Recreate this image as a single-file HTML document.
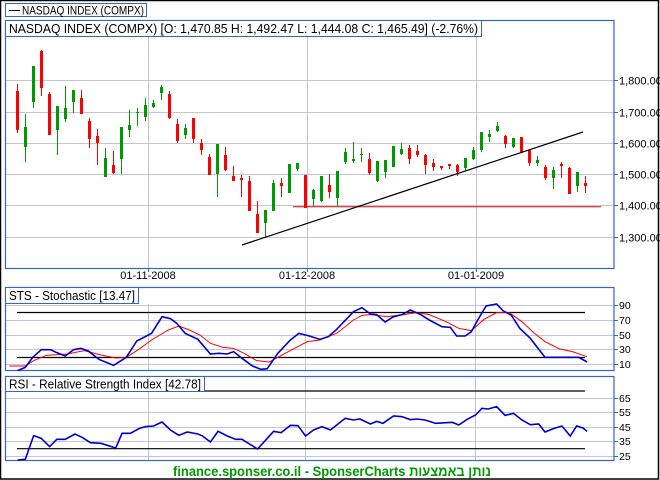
<!DOCTYPE html>
<html><head><meta charset="utf-8"><style>
html,body{margin:0;padding:0;background:#fff}
svg{display:block}
text{font-family:"Liberation Sans",sans-serif;fill:#000}
</style></head><body>
<svg width="660" height="480" viewBox="0 0 660 480" xmlns="http://www.w3.org/2000/svg">
<rect x="0" y="0" width="660" height="480" fill="#fff"/>
<rect x="0.5" y="0.5" width="658" height="478.5" fill="none" stroke="#000" stroke-width="1.5"/>

<!-- legend -->
<rect x="5.5" y="3.5" width="141" height="13" fill="#fff" stroke="#3366cc"/>
<line x1="9" y1="10.5" x2="20" y2="10.5" stroke="#000"/>
<text x="22" y="14.5" font-size="11.5" textLength="122" lengthAdjust="spacingAndGlyphs">NASDAQ INDEX (COMPX)</text>

<!-- main panel -->
<g stroke="#c4c4d8" stroke-width="1">
<path d="M6 80.5H614M6 112.5H614M6 143.5H614M6 174.5H614M6 205.5H614M6 237.5H614"/>
<path d="M148.5 37V268M307.5 37V268M476.5 37V268"/>
</g>
<rect x="5.5" y="20.5" width="608.5" height="248" fill="none" stroke="#3366cc" stroke-width="1.2"/>
<rect x="5.5" y="20.5" width="476" height="16" fill="#fff" stroke="#3366cc"/>
<text x="9" y="33" font-size="12.5" textLength="469" lengthAdjust="spacingAndGlyphs">NASDAQ INDEX (COMPX) [O: 1,470.85  H: 1,492.47  L: 1,444.08  C: 1,465.49] (-2.76%)</text>
<g stroke="#3366cc"><path d="M614 80.5H618M614 112.5H618M614 143.5H618M614 174.5H618M614 205.5H618M614 237.5H618M148.5 268V272M307.5 268V272M476.5 268V272"/></g>
<g font-size="11">
<text x="619" y="84.5">1,800.00</text>
<text x="619" y="116.5">1,700.00</text>
<text x="619" y="147.5">1,600.00</text>
<text x="619" y="178.5">1,500.00</text>
<text x="619" y="209.5">1,400.00</text>
<text x="619" y="241.5">1,300.00</text>
<text x="148" y="279" text-anchor="middle">01-11-2008</text>
<text x="307" y="279" text-anchor="middle">01-12-2008</text>
<text x="476" y="279" text-anchor="middle">01-01-2009</text>
</g>

<g stroke="#ff0000" fill="#ff0000" stroke-width="1">
<path d="M17.5 84V133M41.5 50V96M49.5 92V135M81.5 90V114M89.5 118V148M97.5 129V165M113.5 151V174M169.5 91V119M177.5 119V143M193.5 118V143M201.5 139V155M209.5 154V175M225.5 147V171M233.5 166V181M241.5 175V197M249.5 176V211M257.5 201V233M281.5 178V197M305.5 175V208M329.5 174V198M369.5 153V175M409.5 145V164M417.5 145V157M425.5 154V174M433.5 159V171M441.5 166V170M449.5 164V169M457.5 164V176M505.5 135V148M521.5 137V153M529.5 150V166M545.5 165V180M561.5 162V178M569.5 167V194M585.5 176V193"/>
</g>
<g fill="#ff0000">
<rect x="16" y="91" width="3" height="39"/><rect x="40" y="51" width="3" height="37"/><rect x="48" y="94" width="3" height="41"/><rect x="80" y="98" width="3" height="16"/><rect x="88" y="121" width="3" height="18"/><rect x="96" y="136" width="3" height="7"/><rect x="112" y="165" width="3" height="8"/><rect x="168" y="94" width="3" height="24"/><rect x="176" y="124" width="3" height="17"/><rect x="192" y="118" width="3" height="21"/><rect x="200" y="143" width="3" height="7"/><rect x="208" y="157" width="3" height="18"/><rect x="224" y="155" width="3" height="15"/><rect x="232" y="176" width="3" height="5"/><rect x="240" y="178" width="3" height="2"/><rect x="248" y="181" width="3" height="30"/><rect x="256" y="214" width="3" height="19"/><rect x="280" y="183" width="3" height="3"/><rect x="304" y="175" width="3" height="33"/><rect x="328" y="185" width="3" height="7"/><rect x="368" y="159" width="3" height="14"/><rect x="408" y="148" width="3" height="11"/><rect x="416" y="151" width="3" height="4"/><rect x="424" y="155" width="3" height="10"/><rect x="432" y="163" width="3" height="4"/><rect x="440" y="166" width="3" height="2"/><rect x="448" y="164" width="3" height="2"/><rect x="456" y="165" width="3" height="7"/><rect x="504" y="136" width="3" height="8"/><rect x="520" y="137" width="3" height="16"/><rect x="528" y="150" width="3" height="13"/><rect x="544" y="167" width="3" height="11"/><rect x="560" y="164" width="3" height="2"/><rect x="568" y="168" width="3" height="26"/><rect x="584" y="183" width="3" height="3"/>
</g>
<g stroke="#009900" stroke-width="1">
<path d="M25.5 114V162M33.5 66V108M57.5 106V155M65.5 86V122M73.5 90V113M105.5 148V177M121.5 127V174M129.5 110V137M137.5 108V126M145.5 98V121M153.5 100V108M161.5 85V100M185.5 124V139M217.5 144V197M265.5 210V238M273.5 180V211M289.5 164V193M297.5 163V171M313.5 189V206M321.5 176V202M337.5 171V206M345.5 148V164M353.5 142V163M361.5 148V162M377.5 161V182M385.5 160V178M393.5 146V167M401.5 143V155M465.5 158V170M473.5 147V160M481.5 132V152M489.5 130V142M497.5 122V132M513.5 138V148M537.5 156V166M553.5 167V189M577.5 172V192"/>
</g>
<g fill="#009900">
<rect x="24" y="127" width="3" height="20"/><rect x="32" y="66" width="3" height="36"/><rect x="56" y="106" width="3" height="24"/><rect x="64" y="108" width="3" height="11"/><rect x="72" y="90" width="3" height="12"/><rect x="104" y="158" width="3" height="19"/><rect x="120" y="127" width="3" height="32"/><rect x="128" y="125" width="3" height="5"/><rect x="136" y="112" width="3" height="1"/><rect x="144" y="105" width="3" height="12"/><rect x="152" y="103" width="3" height="4"/><rect x="160" y="87" width="3" height="6"/><rect x="184" y="128" width="3" height="7"/><rect x="216" y="144" width="3" height="30"/><rect x="264" y="210" width="3" height="13"/><rect x="272" y="183" width="3" height="28"/><rect x="288" y="164" width="3" height="29"/><rect x="296" y="163" width="3" height="6"/><rect x="312" y="190" width="3" height="9"/><rect x="320" y="176" width="3" height="25"/><rect x="336" y="171" width="3" height="27"/><rect x="344" y="152" width="3" height="10"/><rect x="352" y="159" width="3" height="2"/><rect x="360" y="154" width="3" height="1"/><rect x="376" y="161" width="3" height="20"/><rect x="384" y="160" width="3" height="12"/><rect x="392" y="146" width="3" height="21"/><rect x="400" y="149" width="3" height="5"/><rect x="464" y="158" width="3" height="10"/><rect x="472" y="150" width="3" height="9"/><rect x="480" y="132" width="3" height="18"/><rect x="488" y="134" width="3" height="3"/><rect x="496" y="126" width="3" height="5"/><rect x="512" y="138" width="3" height="9"/><rect x="536" y="160" width="3" height="3"/><rect x="552" y="170" width="3" height="8"/><rect x="576" y="172" width="3" height="14"/>
</g>
<line x1="293" y1="206.7" x2="601" y2="206.7" stroke="#e00000" stroke-width="1"/>
<line x1="242" y1="245" x2="583" y2="132" stroke="#000" stroke-width="1.2"/>

<!-- Stochastic panel -->
<g stroke="#c4c4d8"><path d="M6 305.5H614M6 320.5H614M6 335.5H614M6 349.5H614M6 364.5H614M148.5 304V370M305.5 288V370M475.5 288V370"/></g>
<rect x="5.5" y="287.5" width="608.5" height="83" fill="none" stroke="#3366cc" stroke-width="1.2"/>
<g stroke="#3366cc"><path d="M614 305.5H618M614 320.5H618M614 335.5H618M614 349.5H618M614 364.5H618"/></g>
<g font-size="10.5">
<text x="619" y="309">90</text><text x="619" y="324">70</text><text x="619" y="339">50</text><text x="619" y="353">30</text><text x="619" y="368">10</text>
</g>
<path d="M17 312.5H585M17 357.5H585" stroke="#000" stroke-width="1.2"/>
<g transform="translate(0,280) scale(0.42088,0.33333)" fill="none">
<polyline vector-effect="non-scaling-stroke" stroke="#ff0000" stroke-width="1" points="22,258 60,258 80,242 110,226 160,222 200,212 240,225 275,234 300,232 330,208 360,180 400,150 425,138 450,150 475,165 500,190 530,202 555,205 580,220 610,242 640,246 660,232 700,205 730,185 760,180 800,160 840,120 860,106 880,104 920,110 960,104 990,98 1020,104 1060,125 1090,145 1120,152 1150,118 1180,98 1210,98 1240,125 1270,160 1295,185 1330,207 1360,215 1395,230"/>
<polyline vector-effect="non-scaling-stroke" stroke="#0000cc" stroke-width="1.6" points="42,272 60,262 78,232 98,209 120,209 135,218 155,228 175,209 192,205 210,213 235,238 270,256 300,232 325,183 360,160 385,110 405,116 420,130 440,160 470,178 500,222 520,220 540,222 555,215 575,235 600,258 620,268 635,266 660,220 690,180 710,160 735,168 760,178 780,170 800,148 840,95 860,83 880,102 895,104 915,126 935,110 955,104 975,90 1000,104 1020,120 1050,140 1070,142 1085,168 1105,168 1120,155 1135,120 1155,78 1180,72 1195,92 1215,106 1235,145 1260,175 1295,232 1325,232 1375,232 1395,246"/>
</g>
<rect x="5.5" y="287.5" width="133" height="16" fill="#fff" stroke="#3366cc"/>
<text x="9" y="300" font-size="12.5" textLength="126" lengthAdjust="spacingAndGlyphs">STS - Stochastic [13.47]</text>

<!-- RSI panel -->
<g stroke="#c4c4d8"><path d="M6 398.5H614M6 412.5H614M6 427.5H614M6 441.5H614M6 456.5H614M148.5 392V460M305.5 377V460M475.5 377V460"/></g>
<rect x="5.5" y="376.5" width="608.5" height="84" fill="none" stroke="#3366cc" stroke-width="1.2"/>
<g stroke="#3366cc"><path d="M614 398.5H618M614 412.5H618M614 427.5H618M614 441.5H618M614 456.5H618"/></g>
<g font-size="10.5">
<text x="619" y="402">65</text><text x="619" y="416">55</text><text x="619" y="431">45</text><text x="619" y="445">35</text><text x="619" y="460">25</text>
</g>
<path d="M17 391H585M17 448.7H585" stroke="#000" stroke-width="1.2"/>
<g transform="translate(0,280) scale(0.42088,0.33333)" fill="none">
<polyline vector-effect="non-scaling-stroke" stroke="#0000cc" stroke-width="1.6" points="42,540 60,538 80,467 98,475 118,500 135,478 155,478 178,462 195,472 215,488 240,490 275,504 290,460 310,460 330,446 345,440 365,438 385,426 405,450 425,466 445,456 470,462 480,467 500,486 518,454 540,468 560,478 575,478 612,507 630,482 650,454 668,458 690,436 708,437 726,468 745,450 765,440 785,450 800,435 820,415 840,420 855,417 880,432 895,424 910,430 935,408 955,410 975,419 990,417 1010,420 1035,430 1060,428 1075,427 1090,435 1110,418 1130,405 1145,385 1160,387 1180,380 1200,406 1220,400 1240,420 1260,434 1280,432 1295,456 1315,446 1335,438 1355,468 1370,438 1385,444 1395,454"/>
</g>
<rect x="5.5" y="376.5" width="199" height="15" fill="#fff" stroke="#3366cc"/>
<text x="9" y="388.5" font-size="12.5" textLength="192" lengthAdjust="spacingAndGlyphs">RSI - Relative Strength Index [42.78]</text>

<!-- footer -->
<text x="173" y="476" font-size="14" font-weight="bold" style="fill:#009900" textLength="318" lengthAdjust="spacingAndGlyphs" font-family="Liberation Sans, Noto Sans CJK JP, sans-serif">finance.sponser.co.il - SponserCharts נותן באמצעות</text>
</svg>
</body></html>
